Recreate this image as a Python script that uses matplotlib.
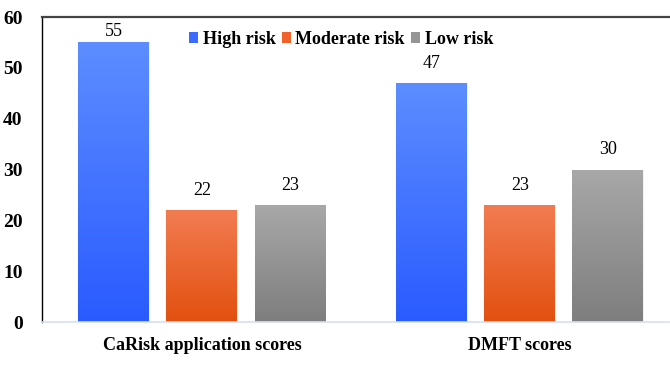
import numpy as np
import matplotlib.pyplot as plt
from matplotlib.colors import to_rgb
from matplotlib.patches import Patch

# -------------------------
# Datos
# -------------------------
categories = ['CaRisk application scores', 'DMFT scores']
series_names = ['High risk', 'Moderate risk', 'Low risk']
high_risk = [55, 47]
moderate_risk = [22, 23]
low_risk = [23, 30]
yticks = [0, 10, 20, 30, 40, 50, 60]

# colores (arriba, abajo) para el degradado
grad_colors = [('#5d8dff', '#2a5bff'),
               ('#f27c52', '#e2500f'),
               ('#a8a8a8', '#7e7e7e')]
legend_colors = ['#3c6cff', '#f0622a', '#959595']

plt.rcParams['font.family'] = ['Liberation Serif', 'DejaVu Serif']

fig = plt.figure(figsize=(6.7, 3.65), dpi=100)
ax = fig.add_axes([0.0627, 0.1178, 0.9358, 0.8356])

x = np.arange(len(categories))
step = 0.277
width = 0.223
series = [high_risk, moderate_risk, low_risk]

for i, vals in enumerate(series):
    pos = x + (i - 1) * step
    bars = ax.bar(pos, vals, width, color=legend_colors[i],
                  edgecolor='#eef2ff', linewidth=0.8, zorder=2)
    c1 = np.array(to_rgb(grad_colors[i][0]))
    c2 = np.array(to_rgb(grad_colors[i][1]))
    grad = np.linspace(0, 1, 256).reshape(-1, 1, 1)
    img = c1 * (1 - grad) + c2 * grad
    for b, v in zip(bars, vals):
        x0 = b.get_x()
        im = ax.imshow(img, extent=[x0, x0 + b.get_width(), 0, v],
                       aspect='auto', origin='upper', zorder=2.5)
        im.set_clip_path(b)
        ax.text(x0 + b.get_width() / 2, min(v + 3.9, 57.2), str(v),
                ha='center', va='center', fontsize=13, zorder=4)

ax.set_xlim(-0.503, 1.469)
ax.set_ylim(0, 60)
ax.set_yticks(yticks)
ax.set_yticklabels([str(t) for t in yticks], fontsize=14, fontweight='bold')
ax.set_xticks(x)
ax.set_xticklabels(categories, fontsize=13, fontweight='bold')
ax.tick_params(axis='both', length=0)
ax.tick_params(axis='y', pad=14)
ax.tick_params(axis='x', pad=11)

ax.spines['right'].set_visible(False)
ax.spines['left'].set_color('black')
ax.spines['left'].set_linewidth(1.0)
ax.spines['top'].set_color('#444444')
ax.spines['top'].set_linewidth(1.6)
ax.spines['bottom'].set_color('#d6e0f0')
ax.spines['bottom'].set_linewidth(1.2)

handles = [Patch(facecolor=c, edgecolor='none') for c in legend_colors]
ax.legend(handles, series_names, loc='upper center',
          bbox_to_anchor=(0.477, 0.99), ncol=3, frameon=False,
          prop={'size': 13, 'weight': 'bold'},
          handlelength=0.5, handleheight=0.5, handletextpad=0.25,
          columnspacing=0.35, borderaxespad=0.2)

fig.savefig('out.png', dpi=100)
